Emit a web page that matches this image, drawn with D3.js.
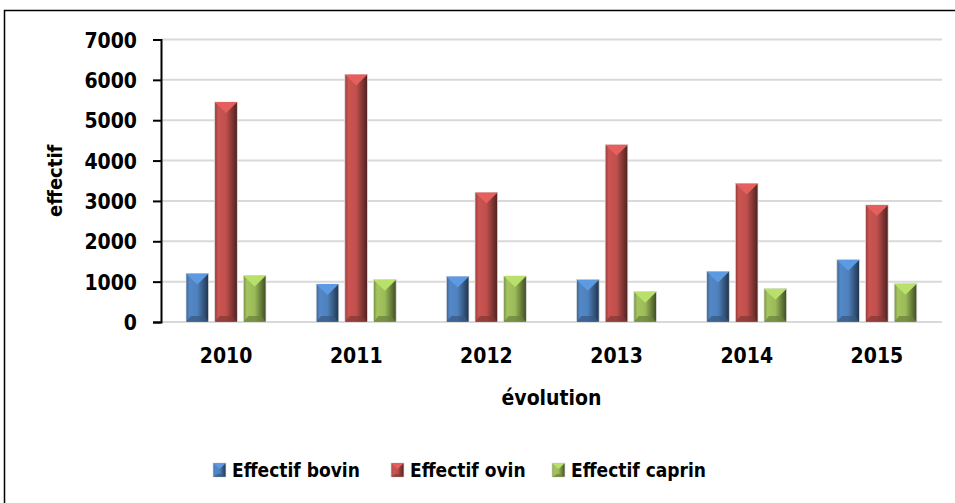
<!DOCTYPE html>
<html>
<head>
<meta charset="utf-8">
<script src="https://cdn.jsdelivr.net/npm/d3@7"></script>
<style>
  body { margin: 0; background: #fff; }
  text { font-family: "DejaVu Sans Condensed", "DejaVu Sans", sans-serif; font-stretch: condensed; font-weight: bold; fill: #000; }
</style>
</head>
<body>
<svg id="chart" width="955" height="503"></svg>
<script>
// data
var years = ["2010", "2011", "2012", "2013", "2014", "2015"];
var series = ["Effectif bovin", "Effectif ovin", "Effectif caprin"];
var bovin  = [1200,  940, 1130, 1050, 1250, 1540];
var ovin   = [5450, 6130, 3210, 4390, 3430, 2900];
var caprin = [1150, 1050, 1140,  750,  825,  950];
var yTicks = [0, 1000, 2000, 3000, 4000, 5000, 6000, 7000];
var colors = ["#4F81BD", "#C0504D", "#9BBB59"];

var values = [bovin, ovin, caprin];
var rows = years.map(function(y, i) {
  return { year: y, vals: series.map(function(s, j) { return { key: s, idx: j, v: values[j][i] }; }) };
});

var width = 955, height = 503;
var margin = {top: 39.5, right: 13, bottom: 181, left: 161};

var svg = d3.select("#chart");
var defs = svg.append("defs");

// horizontal shading for the bevelled bars
colors.forEach(function(c, i) {
  var base = d3.color(c);
  var g = defs.append("linearGradient").attr("id", "grad" + i)
    .attr("x1", "0%").attr("x2", "100%").attr("y1", "0%").attr("y2", "0%");
  g.append("stop").attr("offset", "0%").attr("stop-color", base.darker(0.8));
  g.append("stop").attr("offset", "15%").attr("stop-color", base.brighter(0.15));
  g.append("stop").attr("offset", "50%").attr("stop-color", base);
  g.append("stop").attr("offset", "75%").attr("stop-color", base.darker(1.0));
  g.append("stop").attr("offset", "100%").attr("stop-color", base.darker(2.6));
});

// outer frame
svg.append("rect")
  .attr("x", 4.5).attr("y", 10.5)
  .attr("width", 960).attr("height", 520)
  .attr("fill", "none").attr("stroke", "#000").attr("stroke-width", 1.5);

var x0 = d3.scaleBand().domain(years)
  .range([margin.left, width - margin.right]);
var x1 = d3.scaleBand().domain(series)
  .range([25, 105]).paddingInner(0.21);
var y = d3.scaleLinear().domain([0, 7000])
  .range([height - margin.bottom, margin.top]);

// gridlines
svg.append("g").selectAll("line")
  .data(yTicks)
  .enter().append("line")
  .attr("x1", margin.left).attr("x2", width - margin.right)
  .attr("y1", d => y(d)).attr("y2", d => y(d))
  .attr("stroke", "#d9d9d9").attr("stroke-width", 2);

// y axis
var yAxis = svg.append("g")
  .attr("transform", "translate(" + margin.left + ",0)")
  .call(d3.axisLeft(y).tickValues(yTicks).tickSize(8).tickPadding(16).tickFormat(d3.format("d")));
yAxis.select(".domain").attr("stroke", "#000").attr("stroke-width", 2);
yAxis.selectAll(".tick line").attr("stroke", "#000").attr("stroke-width", 2);
yAxis.selectAll(".tick text").style("font-size", "21px").attr("dy", "0.36em");

// x labels
svg.append("g").selectAll("text")
  .data(years)
  .enter().append("text")
  .attr("x", d => x0(d) + x0.bandwidth() / 2)
  .attr("y", 363)
  .attr("text-anchor", "middle")
  .style("font-size", "21px")
  .text(d => d);

function bevel(sel, w, h, i, topDepth, botDepth) {
  var base = d3.color(colors[i]);
  sel.append("rect")
    .attr("width", w).attr("height", h)
    .attr("fill", "url(#grad" + i + ")")
    .attr("stroke", "#e0e0e0").attr("stroke-width", 0.8);
  var t = Math.min(topDepth, h / 2), b = Math.min(botDepth, h / 2);
  sel.append("path")
    .attr("d", "M0,0 L" + w + ",0 L" + (w / 2) + "," + t + "Z")
    .attr("fill", base.brighter(0.5));
  sel.append("path")
    .attr("d", "M0," + h + " L" + w + "," + h + " L" + (w - 5) + "," + (h - b) + " L5," + (h - b) + "Z")
    .attr("fill", base.darker(1.0)).attr("opacity", 0.75);
}

// bars
var groups = svg.append("g").selectAll("g")
  .data(rows)
  .enter().append("g")
  .attr("transform", d => "translate(" + x0(d.year) + ",0)");

groups.selectAll("g")
  .data(d => d.vals)
  .enter().append("g")
  .attr("transform", d => "translate(" + x1(d.key) + "," + y(d.v) + ")")
  .each(function(d) {
    bevel(d3.select(this), x1.bandwidth(), y(0) - y(d.v), d.idx, 11, 6);
  });

// axis titles
svg.append("text")
  .attr("transform", "translate(62," + ((y(0) + y(7000)) / 2) + ") rotate(-90)")
  .attr("text-anchor", "middle")
  .style("font-size", "20px")
  .text("effectif");

svg.append("text")
  .attr("x", (margin.left + width - margin.right) / 2)
  .attr("y", 405)
  .attr("text-anchor", "middle")
  .style("font-size", "21px")
  .text("évolution");

// legend
var legendX = [213, 391, 552];
var legend = svg.append("g").selectAll("g")
  .data(series)
  .enter().append("g")
  .attr("transform", (d, i) => "translate(" + legendX[i] + ",463)");
legend.each(function(d, i) {
  var g = d3.select(this).append("g");
  bevel(g, 13, 14, i, 6, 3);
});
legend.append("text")
  .attr("x", 19).attr("y", 14)
  .style("font-size", "19px")
  .text(d => d);
</script>
</body>
</html>
